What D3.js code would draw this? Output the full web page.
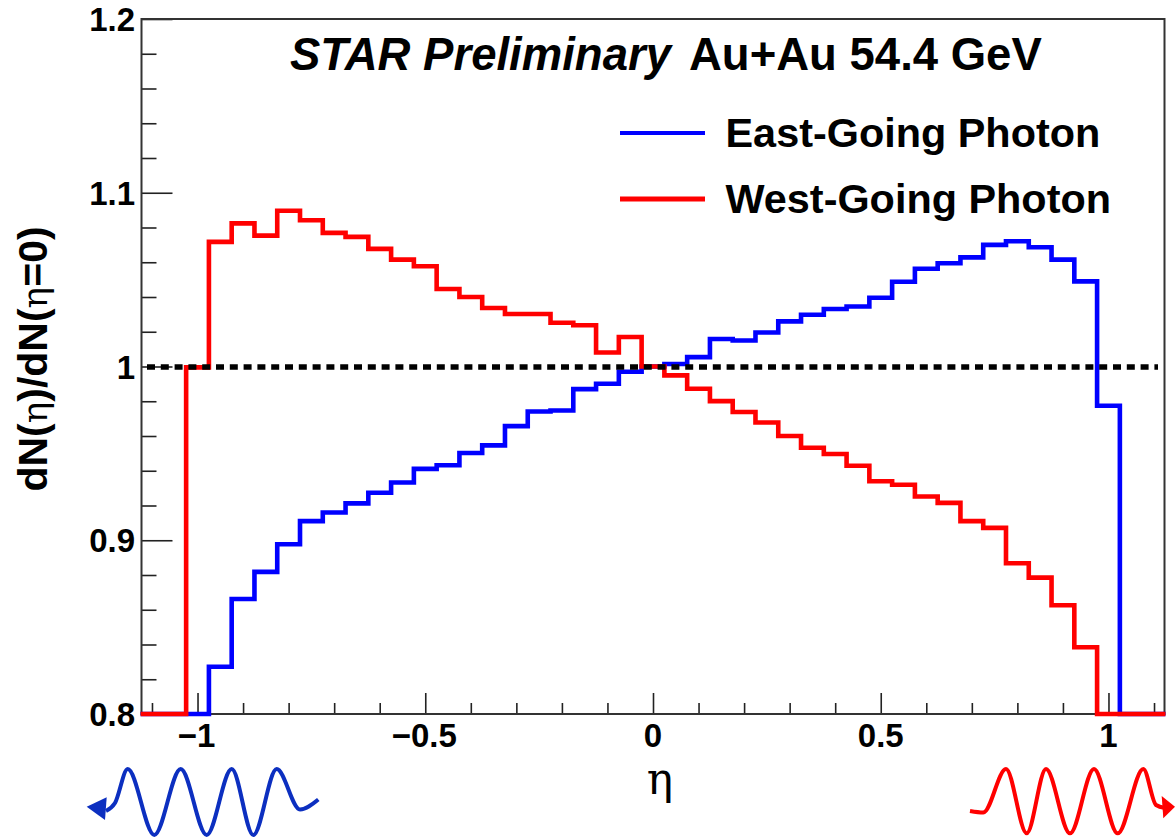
<!DOCTYPE html>
<html><head><meta charset="utf-8">
<script src="https://cdn.jsdelivr.net/npm/d3@7"></script>
<style>html,body{margin:0;padding:0;background:#fff}svg{display:block}
text{font-family:"Liberation Sans",Arial,sans-serif;font-weight:bold;fill:#000}</style></head>
<body><div id="c"></div>
<script>
const binCenters=[-1.1,-1.05,-1,-0.95,-0.9,-0.85,-0.8,-0.75,-0.7,-0.65,-0.6,-0.55,-0.5,-0.45,-0.4,-0.35,-0.3,-0.25,-0.2,-0.15,-0.1,-0.05,0,0.05,0.1,0.15,0.2,0.25,0.3,0.35,0.4,0.45,0.5,0.55,0.6,0.65,0.7,0.75,0.8,0.85,0.9,0.95,1,1.05,1.1];
const eastGoing=[0.8,0.8,0.8,0.8272,0.8662,0.8818,0.8977,0.911,0.916,0.9212,0.9273,0.9332,0.9411,0.9432,0.9502,0.9546,0.9657,0.9741,0.9747,0.987,0.9901,0.997,1.0,1.0014,1.0054,1.0158,1.015,1.0196,1.026,1.0298,1.0331,1.0345,1.0396,1.0488,1.0563,1.0594,1.0628,1.07,1.0721,1.0686,1.0615,1.049,0.9774,0.8,0.8];
const westGoing=[0.8,0.8,0.9995,1.0717,1.0824,1.0753,1.0896,1.0842,1.0769,1.0746,1.0677,1.0615,1.0577,1.0446,1.04,1.0337,1.0302,1.0302,1.0252,1.0237,1.0081,1.017,1.0,0.9949,0.9872,0.9801,0.9738,0.9678,0.96,0.9532,0.9496,0.9429,0.934,0.9319,0.9252,0.9215,0.911,0.9071,0.8868,0.8785,0.8626,0.8384,0.8,0.8,0.8];
const xMajor=[-1,-0.5,0,0.5,1];
const xMinor=[-1.1,-0.9,-0.8,-0.7,-0.6,-0.4,-0.3,-0.2,-0.1,0.1,0.2,0.3,0.4,0.6,0.7,0.8,0.9,1.1];
const yMajor=[0.8,0.9,1.0,1.1,1.2];
const yMinor=[0.82,0.84,0.86,0.88,0.92,0.94,0.96,0.98,1.02,1.04,1.06,1.08,1.12,1.14,1.16,1.18];
const xLabels=["\u22121","\u22120.5","0","0.5","1"];
const yLabels=["0.8","0.9","1","1.1","1.2"];
const legendNames=["East-Going Photon","West-Going Photon"];

const W=1175,H=840,L=141.5,R=1164.5,T=19,B=714;
const binW=0.05;
const x=d3.scaleLinear().domain([-1.123,1.123]).range([L,R]);
const y=d3.scaleLinear().domain([0.8,1.2]).range([B,T]);
const svg=d3.select("#c").append("svg").attr("width",W).attr("height",H);

function axisStyle(g){g.select(".domain").remove();g.selectAll("line").attr("stroke","#222").attr("stroke-width",1.6);}
svg.append("g").attr("transform",`translate(0,${B})`).call(d3.axisTop(x).tickValues(xMinor).tickSize(11).tickFormat("")).call(axisStyle);
svg.append("g").attr("transform",`translate(0,${B})`).call(d3.axisTop(x).tickValues(xMajor).tickSize(21).tickFormat("")).call(axisStyle);
svg.append("g").attr("transform",`translate(${L},0)`).call(d3.axisRight(y).tickValues(yMinor).tickSize(15).tickFormat("")).call(axisStyle);
svg.append("g").attr("transform",`translate(${L},0)`).call(d3.axisRight(y).tickValues(yMajor).tickSize(31).tickFormat("")).call(axisStyle);
svg.append("rect").attr("x",L).attr("y",T).attr("width",R-L).attr("height",B-T).attr("fill","none").attr("stroke","#333").attr("stroke-width",2);

xMajor.forEach((v,i)=>svg.append("text").attr("x",x(v)-(i<2?1:0)).attr("y",747).attr("text-anchor","middle").attr("font-size",33).text(xLabels[i]));
yMajor.forEach((v,i)=>svg.append("text").attr("x",135).attr("y",y(v)+12).attr("text-anchor","end").attr("font-size",33).text(yLabels[i]));

const stepLine=d3.line().x(d=>x(d[0])).y(d=>y(d[1])).curve(d3.curveStepAfter);
function hist(vals){const pts=vals.map((v,i)=>[binCenters[i]-binW/2,v]);pts.push([binCenters[binCenters.length-1]+binW/2,vals[vals.length-1]]);return stepLine(pts);}
svg.append("path").attr("d",hist(eastGoing)).attr("fill","none").attr("stroke","#0000ff").attr("stroke-width",4.6);
svg.append("path").attr("d",hist(westGoing)).attr("fill","none").attr("stroke","#ff0000").attr("stroke-width",4.6);
svg.append("line").attr("x1",147).attr("x2",1158).attr("y1",y(1)+0.5).attr("y2",y(1)+0.5).attr("stroke","#000").attr("stroke-width",5.5).attr("stroke-dasharray","8 5.8");

svg.append("text").attr("x",290).attr("y",70).attr("font-size",45.5).attr("font-style","italic").text("STAR Preliminary");
svg.append("text").attr("x",689).attr("y",70).attr("font-size",45.5).text("Au+Au 54.4 GeV");

[133,199].forEach((yy,i)=>{
 svg.append("line").attr("x1",620).attr("x2",705).attr("y1",yy).attr("y2",yy).attr("stroke",i?"#ff0000":"#0000ff").attr("stroke-width",i?5:4.2);
 svg.append("text").attr("x",725.5).attr("y",yy+14).attr("font-size",41.4).text(legendNames[i]);
});

const yt=svg.append("text").attr("transform","translate(47,359) rotate(-90)").attr("text-anchor","middle").attr("font-size",41);
const eta="font-family:'DejaVu Serif';font-weight:normal;font-size:36px";
yt.append("tspan").text("dN(");
yt.append("tspan").attr("style",eta).text("\u03b7");
yt.append("tspan").text(")/dN(");
yt.append("tspan").attr("style",eta).text("\u03b7");
yt.append("tspan").text("=0)");
svg.append("text").attr("x",660).attr("y",794).attr("text-anchor","middle").attr("font-size",44).style("font-family","'DejaVu Serif'").style("font-weight","normal").text("\u03b7");

const waveBlue=[[106,811],[115,803],[127.7,769],[154.3,835],[180.7,769],[206.7,835],[231.7,769],[253.3,835],[276.7,769],[300,809.5],[318.3,799.5]];
const waveRed=[[970,811],[983.3,812.5],[1006,769],[1026.7,833.3],[1046,769],[1070,833.3],[1094,769],[1117.7,833.3],[1143.3,769],[1156,805],[1165,808]];
const arrowBlue=[[86.7,806.7],[106.7,797.3],[105,820]];
const arrowRed=[[1161.7,796],[1175,806.7],[1163.3,818.3]];
const wl=d3.line().curve(d3.curveMonotoneX);
svg.append("path").attr("d",wl(waveBlue)).attr("fill","none").attr("stroke","#0c2fc0").attr("stroke-width",4);
svg.append("path").attr("d",d3.line()(arrowBlue)+"Z").attr("fill","#0c2fc0");
svg.append("path").attr("d",wl(waveRed)).attr("fill","none").attr("stroke","#ff0000").attr("stroke-width",4);
svg.append("path").attr("d",d3.line()(arrowRed)+"Z").attr("fill","#ff0000");
</script></body></html>
